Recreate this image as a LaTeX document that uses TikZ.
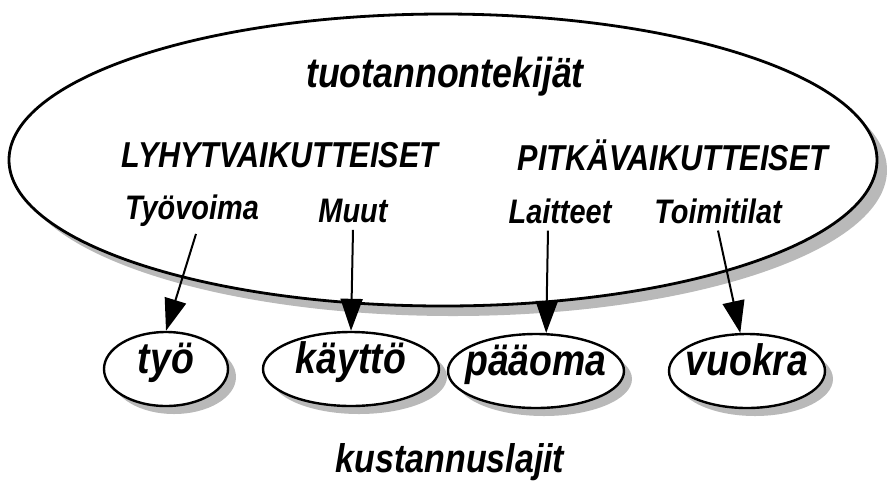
\documentclass[tikz,border=0pt]{standalone}
\usepackage{fontspec}
\setmainfont[FakeStretch=0.85]{Liberation Sans}
\usetikzlibrary{arrows.meta,shapes.geometric,shadows}
\tikzset{
    factors/.style = {
        draw, ellipse,
        line width=1.4pt,
        fill = white,
        inner sep=0pt,
        minimum width=434pt,
        minimum height=146pt,
        drop shadow={shadow xshift=5pt, shadow yshift=-5pt, fill=gray!55, opacity=1},
        },
    title/.style = {
        font=\bfseries\itshape\fontsize{21}{24}\selectfont,
        },
    group/.style = {
        font=\bfseries\itshape\fontsize{18}{21}\selectfont,
        },
    factor/.style = {
        font=\bfseries\itshape\fontsize{17}{20}\selectfont,
        },
    cost/.style = {
        draw, ellipse,
        line width=1.2pt,
        fill = white,
        inner ysep=0pt,
        inner xsep=-5pt,
        text height=0.72em,
        text depth=0.3em,
        minimum height=37pt,
        font=\bfseries\itshape\fontsize{22}{26}\selectfont,
        drop shadow={shadow xshift=4pt, shadow yshift=-4pt, fill=gray!55, opacity=1},
        },
    link/.style = {
        line width=1pt,
        -{Triangle[length=16pt,width=11pt]},
        },
}
\begin{document}
\begin{tikzpicture}[x=0.5pt, y=-0.5pt]
    \useasboundingbox (0,0) rectangle (891,495);

    % production factors
    \node [factors] (tekijat) at (443,160) {};
    \node [title] (otsikko) at (445,77) {tuotannontekijät};

    \node [group] (lyhyt) at (280,155) {LYHYTVAIKUTTEISET};
    \node [group] (pitka) at (673,155) {PITKÄVAIKUTTEISET};

    \node [factor] (tyovoima) at (192,211) {Työvoima};
    \node [factor] (muut) at (353,211) {Muut};
    \node [factor] (laitteet) at (560,211) {Laitteet};
    \node [factor] (toimitilat) at (718,211) {Toimitilat};

    % cost types
    \node [cost, minimum width=62pt] (tyo) at (166,369) {työ};
    \node [cost, minimum width=88pt] (kaytto) at (351,369) {käyttö};
    \node [cost, minimum width=88pt] (paaoma) at (536,371) {pääoma};
    \node [cost, minimum width=78pt] (vuokra) at (747,371) {vuokra};

    \node [title, font=\bfseries\itshape\fontsize{20}{24}\selectfont] (lajit) at (450,462) {kustannuslajit};

    \draw[link] ([xshift=2pt]tyovoima.south) to (tyo.north);
    \draw[link] (muut.south) to (kaytto.north);
    \draw[link] ([xshift=-6pt]laitteet.south) to (paaoma.75);
    \draw[link] (toimitilat.south) to (vuokra.100);
\end{tikzpicture}
\end{document}
